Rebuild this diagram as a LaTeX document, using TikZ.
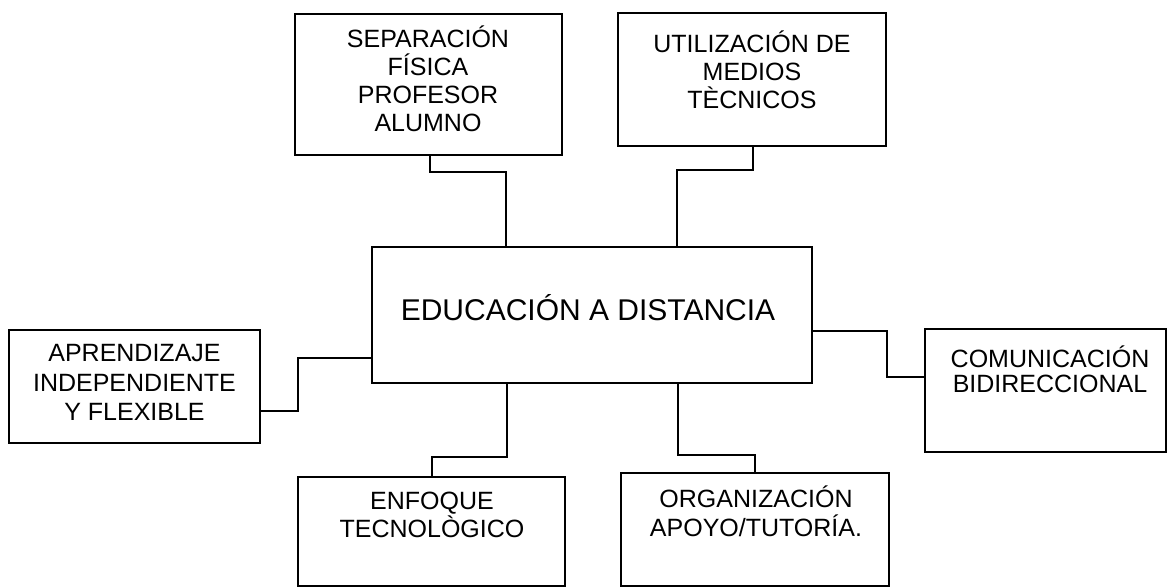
\documentclass[tikz,border=0pt]{standalone}
\usepackage{fontspec}
\setmainfont{Liberation Sans}
\begin{document}
\begin{tikzpicture}[x=1pt,y=-1pt,
  box/.style={draw=black,line width=1.3pt,rectangle,inner sep=0pt,fill=none},
  txt/.style={align=center,inner sep=0pt,font=\fontsize{25}{28}\selectfont},
  link/.style={draw=black,line width=1.3pt}]
\useasboundingbox[fill=white] (0,0) rectangle (1169,588);
% boxes
\node[box,minimum width=267pt,minimum height=141pt] (sep) at (428.5,84.5) {};
\node[box,minimum width=268pt,minimum height=133pt] (uti) at (752,79.5) {};
\node[box,minimum width=440pt,minimum height=136pt] (edu) at (592,315) {};
\node[box,minimum width=251pt,minimum height=113pt] (apr) at (134.5,386.5) {};
\node[box,minimum width=241pt,minimum height=123pt] (com) at (1045.5,390.5) {};
\node[box,minimum width=267pt,minimum height=109pt] (enf) at (431.5,531.5) {};
\node[box,minimum width=268pt,minimum height=113pt] (org) at (755,529.5) {};
% texts
\node[txt] (tsep) at (428,79) {SEPARACIÓN\\FÍSICA\\PROFESOR\\ALUMNO};
\node[txt] (tuti) at (752,69.5) {UTILIZACIÓN DE\\MEDIOS\\TÈCNICOS};
\node[txt,font=\fontsize{30}{34}\selectfont] (tedu) at (588,308) {EDUCACIÓN A DISTANCIA};
\node[txt,font=\fontsize{25}{29.5}\selectfont] (tapr) at (134.5,382.5) {APRENDIZAJE\\INDEPENDIENTE\\Y FLEXIBLE};
\node[txt,font=\fontsize{25}{25}\selectfont] (tcom) at (1050,369) {COMUNICACIÓN\\BIDIRECCIONAL};
\node[txt] (tenf) at (432,515) {ENFOQUE\\TECNOLÒGICO};
\node[txt,font=\fontsize{25}{29}\selectfont] (torg) at (756,511.5) {ORGANIZACIÓN\\APOYO/TUTORÍA.};
% elbow points
\coordinate (a1) at (430,172); \coordinate (a2) at (506,172);
\coordinate (b1) at (753,170); \coordinate (b2) at (677,170);
\coordinate (c1) at (298,411); \coordinate (c2) at (298,358);
\coordinate (d1) at (887,331); \coordinate (d2) at (887,377);
\coordinate (e1) at (507,457); \coordinate (e2) at (432,457);
\coordinate (f1) at (678,455); \coordinate (f2) at (755,455);
% connectors
\draw[link] (sep.south -| a1) -- (a1) -- (a2) -- (edu.north -| a2);
\draw[link] (uti.south -| b1) -- (b1) -- (b2) -- (edu.north -| b2);
\draw[link] (apr.east |- c1) -- (c1) -- (c2) -- (edu.west |- c2);
\draw[link] (edu.east |- d1) -- (d1) -- (d2) -- (com.west |- d2);
\draw[link] (edu.south -| e1) -- (e1) -- (e2) -- (enf.north -| e2);
\draw[link] (edu.south -| f1) -- (f1) -- (f2) -- (org.north -| f2);
\end{tikzpicture}
\end{document}
